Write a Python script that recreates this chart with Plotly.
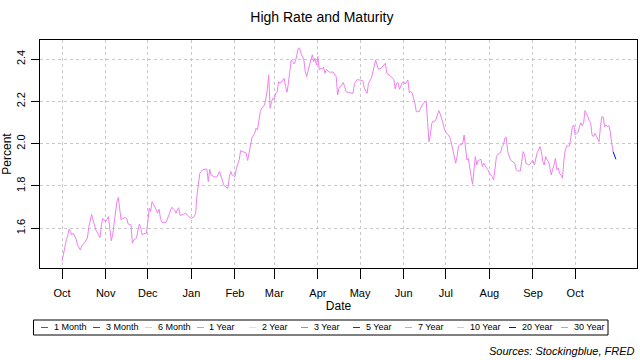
import pandas as pd
import plotly.graph_objects as go

# ---------------- data ----------------
START = pd.Timestamp("2020-10-01")

days_since_start = [
    0, 1, 2, 3, 4, 5, 7, 8, 10, 11, 13, 14, 16, 18, 19, 21, 22, 23, 24, 26, 27, 28, 29, 30, 31,
    33, 34, 35, 36, 37, 38, 39, 40, 41, 42, 43, 45, 46, 47, 49, 50, 51, 53, 54, 55, 56, 57, 58, 60,
    61, 62, 63, 64, 65, 66, 67, 68, 69, 70, 71, 74, 75, 77, 78, 80, 81, 82, 83, 84, 86, 88, 90,
    92, 94, 95, 96, 97, 98, 100, 101, 103, 104, 105, 106, 108, 110, 112, 113, 115, 116, 118, 119,
    120, 121, 123, 124, 126, 127, 129, 131, 132, 133, 134, 135, 137, 138, 139, 140, 141, 142, 144,
    145, 146, 147, 148, 149, 150, 151, 152, 153, 154, 155, 156, 157, 158, 159, 160, 161, 162, 163,
    164, 165, 166, 167, 168, 169, 170, 172, 173, 174, 175, 176, 177, 178, 179, 180, 181, 182, 183,
    184, 185, 186, 187, 188, 190, 191, 193, 194, 195, 196, 197, 199, 200, 201, 202, 204, 206, 207,
    208, 210, 211, 212, 214, 215, 217, 218, 220, 221, 222, 223, 224, 225, 227, 228, 230, 231, 233,
    234, 236, 237, 238, 239, 240, 241, 242, 243, 244, 246, 247, 248, 249, 250, 251, 252, 254, 255,
    257, 259, 260, 261, 262, 263, 264, 265, 266, 268, 269, 270, 271, 272, 273, 275, 276, 277, 278,
    279, 280, 281, 282, 283, 285, 286, 287, 288, 289, 290, 291, 292, 293, 294, 295, 296, 297, 298,
    299, 300, 302, 303, 304, 306, 307, 308, 309, 310, 312, 313, 314, 315, 316, 317, 318, 319, 320,
    322, 323, 324, 326, 327, 328, 329, 330, 332, 333, 334, 335, 336, 337, 338, 339, 340, 341, 342,
    343, 344, 345, 346, 347, 348, 349, 350, 351, 352, 353, 354, 355, 356, 357, 358, 359, 361, 362,
    363, 364, 365, 366, 367, 368, 369, 370, 371, 372, 373, 374, 375, 376, 377, 378, 379, 380, 381,
    382, 383, 384, 385, 386, 387, 388, 389, 390, 391, 392, 393, 394,
]

high_rate = [
    1.445, 1.482, 1.505, 1.545, 1.564, 1.597, 1.568, 1.576, 1.548, 1.521, 1.497, 1.516, 1.532, 1.553,
    1.605, 1.666, 1.639, 1.616, 1.592, 1.568, 1.556, 1.616, 1.647, 1.639, 1.631,
    1.655, 1.592, 1.541, 1.568, 1.616, 1.679, 1.726, 1.745, 1.695, 1.639, 1.647, 1.650, 1.647, 1.620,
    1.616, 1.529, 1.545, 1.553, 1.592, 1.620, 1.600, 1.568, 1.573, 1.576,
    1.631, 1.695, 1.679, 1.726, 1.713, 1.702, 1.687, 1.671, 1.690, 1.647, 1.628, 1.628, 1.647, 1.679,
    1.699, 1.687, 1.671, 1.687, 1.697, 1.660, 1.666, 1.671, 1.655,
    1.647, 1.655, 1.671, 1.757, 1.820, 1.860, 1.876, 1.879, 1.879, 1.820, 1.879, 1.852, 1.844, 1.841,
    1.868, 1.844, 1.805, 1.797, 1.789, 1.844,
    1.868, 1.852, 1.844, 1.884, 1.923, 1.967, 1.962, 1.955, 1.920, 1.955, 1.986, 2.026, 2.049, 2.073,
    2.065, 2.104, 2.151, 2.167, 2.183,
    2.215, 2.254, 2.325, 2.167, 2.199, 2.215, 2.207, 2.238, 2.246, 2.293, 2.285, 2.293, 2.301, 2.309,
    2.270, 2.243, 2.285, 2.340, 2.396,
    2.388, 2.377, 2.388, 2.420, 2.451, 2.451, 2.427, 2.396, 2.340, 2.317, 2.348, 2.372, 2.396, 2.420,
    2.388, 2.404, 2.372, 2.412, 2.348,
    2.356, 2.353, 2.361, 2.333, 2.352, 2.338, 2.338, 2.338, 2.325, 2.317, 2.230, 2.262, 2.278, 2.289,
    2.270, 2.246, 2.241, 2.241, 2.238,
    2.285, 2.304, 2.301, 2.301, 2.296, 2.262, 2.238, 2.285, 2.309, 2.333, 2.364, 2.396, 2.377, 2.352,
    2.356, 2.364, 2.380, 2.333, 2.325,
    2.317, 2.304, 2.259, 2.285, 2.289, 2.257, 2.273, 2.289, 2.293, 2.282, 2.301, 2.241, 2.246, 2.241,
    2.215, 2.191, 2.151, 2.151, 2.167,
    2.191, 2.202, 2.088, 2.009, 2.041, 2.096, 2.107, 2.104, 2.115, 2.156, 2.140, 2.120, 2.096, 2.068,
    2.052, 2.041, 2.026, 2.002, 1.970,
    1.931, 1.907, 1.939, 1.989, 1.994, 1.999, 2.041, 1.978, 1.923, 1.931, 1.876, 1.844, 1.808, 1.876,
    1.939, 1.899, 1.920, 1.923, 1.926,
    1.891, 1.907, 1.884, 1.876, 1.860, 1.844, 1.828, 1.876, 1.939, 1.950, 1.958, 1.986, 1.994, 2.026,
    2.030, 1.962, 1.939, 1.923, 1.918,
    1.907, 1.876, 1.871, 1.871, 1.907, 1.962, 1.947, 1.907, 1.899, 1.904, 1.915, 1.920, 1.899, 1.939,
    1.958, 1.970, 1.986, 1.962, 1.915,
    1.899, 1.939, 1.923, 1.915, 1.888, 1.852, 1.879, 1.899, 1.931, 1.876, 1.884, 1.857, 1.852, 1.836,
    1.923, 1.970, 1.989, 1.989, 2.033,
    2.080, 2.088, 2.041, 2.049, 2.052, 2.078, 2.099, 2.084, 2.096, 2.156, 2.144, 2.128, 2.109, 2.099,
    2.041, 2.033, 2.049, 2.033, 2.021,
    2.009, 2.080, 2.128, 2.125, 2.080, 2.088, 2.080, 2.084, 2.057, 2.002, 1.962, 1.947, 1.926,
]

# which maturity holds the high rate at each point
high_maturity = ["30 Year"] * (len(high_rate) - 2) + ["20 Year"] * 2

maturities = ["1 Month", "3 Month", "6 Month", "1 Year", "2 Year", "3 Year",
              "5 Year", "7 Year", "10 Year", "20 Year", "30 Year"]
maturity_colors = ["#A020F0", "#FF0000", "#FFC0CB", "#FFA500", "#FFFF00", "#00FF00",
                   "#006400", "#00FFFF", "#ADD8E6", "#0000FF", "#EE82EE"]
color_of = dict(zip(maturities, maturity_colors))

tick_dates = ["2020-10-01", "2020-11-01", "2020-12-01", "2021-01-01", "2021-02-01",
              "2021-03-01", "2021-04-01", "2021-05-01", "2021-06-01", "2021-07-01",
              "2021-08-01", "2021-09-01", "2021-10-01"]
tick_labels = ["Oct", "Nov", "Dec", "Jan", "Feb", "Mar", "Apr", "May", "Jun", "Jul",
               "Aug", "Sep", "Oct"]
y_ticks = [1.6, 1.8, 2.0, 2.2, 2.4]
y_tick_labels = ["1.6", "1.8", "2.0", "2.2", "2.4"]

dates = [START + pd.Timedelta(days=d) for d in days_since_start]

# ---------------- figure ----------------
FONT = "Liberation Sans, Arial, sans-serif"
W, H = 640, 360
ML, MR, MT, MB = 40, 3, 40, 92
PW, PH = W - ML - MR, H - MT - MB


def px_x(px):
    return (px - ML) / PW


def px_y(py):
    return (H - MB - py) / PH


fig = go.Figure()

# split the line into runs coloured by the maturity that holds the high rate
runs = []
start = 0
for i in range(1, len(high_rate) + 1):
    if i == len(high_rate) or high_maturity[i] != high_maturity[start]:
        runs.append((start, i))
        start = i
for k, (a, b) in enumerate(runs):
    a0 = a - 1 if a > 0 else a
    fig.add_trace(go.Scatter(
        x=dates[a0:b], y=high_rate[a0:b], mode="lines",
        line=dict(color=color_of[high_maturity[a]], width=1),
        showlegend=False, hoverinfo="x+y",
    ))

axis_common = dict(
    showline=True, mirror=True, linecolor="black", linewidth=1,
    ticks="outside", tickcolor="black", tickwidth=1,
    showgrid=True, gridcolor="#C8C8C8", griddash="dot", gridwidth=1,
    zeroline=False, automargin=False,
    tickfont=dict(family=FONT, size=11, color="black"),
)

fig.update_layout(
    width=W, height=H,
    margin=dict(l=ML, r=MR, t=MT, b=MB, pad=0),
    paper_bgcolor="white", plot_bgcolor="white",
    font=dict(family=FONT, color="black"),
    title=dict(text="High Rate and Maturity", x=0.503, xref="container", xanchor="center",
               y=1 - 17 / H, yref="container", yanchor="middle",
               font=dict(family=FONT, size=14, color="black")),
    xaxis=dict(type="date", range=["2020-09-15 07:00", "2021-11-14 00:00"],
               tickmode="array", tickvals=tick_dates, ticktext=tick_labels,
               ticklen=10, ticklabelstandoff=5,
               title=dict(text="Date", standoff=3, font=dict(family=FONT, size=12)),
               **axis_common),
    yaxis=dict(range=[1.412, 2.490], tickmode="array", tickvals=y_ticks,
               ticktext=y_tick_labels, tickangle=-90, ticklen=8, ticklabelstandoff=2,
               title=dict(text="Percent", standoff=2, font=dict(family=FONT, size=12)),
               **axis_common),
    showlegend=False,
)

# manual legend (R-style, single row in a box)
shapes = [dict(type="rect", xref="paper", yref="paper",
               x0=px_x(33.5), x1=px_x(608), y0=px_y(320), y1=px_y(335),
               line=dict(color="black", width=1), fillcolor="white")]
annotations = []
for i, (name, col) in enumerate(zip(maturities, maturity_colors)):
    x0 = 41 + 52 * i
    shapes.append(dict(type="line", xref="paper", yref="paper",
                       x0=px_x(x0), x1=px_x(x0 + 7), y0=px_y(327.5), y1=px_y(327.5),
                       line=dict(color=col, width=1)))
    annotations.append(dict(text=name, xref="paper", yref="paper",
                            x=px_x(x0 + 10.5), y=px_y(327.5), xanchor="left", yanchor="middle",
                            showarrow=False, font=dict(family=FONT, size=9, color="black")))

annotations.append(dict(text="<i>Sources: Stockingblue, FRED</i>", xref="paper", yref="paper",
                        x=px_x(637), y=px_y(351), xanchor="right", yanchor="middle",
                        showarrow=False, font=dict(family=FONT, size=11, color="black")))

fig.update_layout(shapes=shapes, annotations=annotations)

fig.write_html("out.html", config={"displayModeBar": False},
               post_script="document.body.style.margin='0px';")
